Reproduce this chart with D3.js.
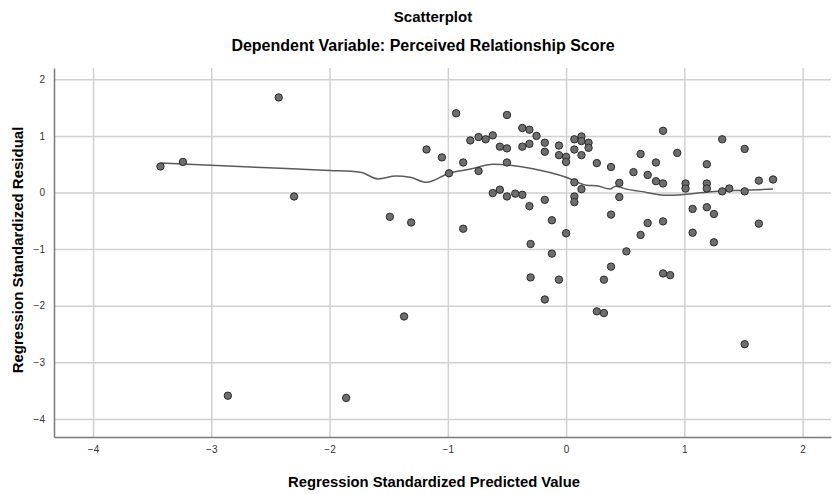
<!DOCTYPE html>
<html>
<head>
<meta charset="utf-8">
<script src="https://cdn.jsdelivr.net/npm/d3@7"></script>
<style>
  body { margin: 0; background: #fff; }
  svg text { font-family: "Liberation Sans", Arial, sans-serif; }
</style>
</head>
<body>
<div id="chart"></div>
<script>
// predicted (x) and residual (y) values
const predicted = [
  -3.43, -3.24, -2.43, -2.30, -2.86, -1.86, -1.49, -1.37, -1.31,
  -1.18, -1.05, -0.99, -0.93, -0.87, -0.87, -0.81, -0.74, -0.74, -0.68,
  -0.62, -0.62, -0.56, -0.56, -0.50, -0.50, -0.50, -0.50, -0.43,
  -0.37, -0.37, -0.37, -0.31, -0.31, -0.31, -0.30, -0.30, -0.25,
  -0.18, -0.18, -0.18, -0.18, -0.12, -0.12, -0.06, -0.06, -0.06,
  0.00, 0.00, 0.00, 0.07, 0.07, 0.07, 0.07, 0.07, 0.13, 0.13, 0.13, 0.13,
  0.19, 0.19, 0.26, 0.26, 0.32, 0.32, 0.38, 0.38, 0.38, 0.45, 0.45,
  0.51, 0.57, 0.63, 0.63, 0.69, 0.69, 0.76, 0.76, 0.82, 0.82, 0.82, 0.82,
  0.88, 0.94, 1.01, 1.01, 1.07, 1.07, 1.19, 1.19, 1.19, 1.19, 1.25, 1.25,
  1.32, 1.32, 1.38, 1.51, 1.51, 1.51, 1.63, 1.63, 1.75
];
const residual = [
  0.46, 0.54, 1.68, -0.07, -3.59, -3.63, -0.43, -2.19, -0.53,
  0.76, 0.62, 0.34, 1.40, 0.53, -0.64, 0.92, 0.98, 0.38, 0.94,
  1.01, -0.01, 0.81, 0.05, 1.37, 0.78, 0.53, -0.07, -0.02,
  1.14, 0.81, -0.04, 1.11, 0.86, -0.24, -0.91, -1.50, 1.00,
  0.88, 0.72, -0.13, -1.89, -0.49, -1.08, 0.83, 0.66, -1.54,
  0.63, 0.54, -0.72, 0.94, 0.76, 0.18, -0.07, -0.17, 0.99, 0.91, 0.66, 0.06,
  0.88, 0.79, 0.52, -2.10, -1.54, -2.13, 0.45, -0.39, -1.31, 0.17, -0.08,
  -1.04, 0.36, 0.68, -0.75, 0.31, -0.54, 0.53, 0.20, 1.09, 0.16, -0.51, -1.43,
  -1.46, 0.70, 0.16, 0.07, -0.29, -0.71, 0.50, 0.16, 0.07, -0.26, -0.38, -0.88,
  0.94, 0.02, 0.07, 0.77, 0.02, -2.68, 0.21, -0.55, 0.23
];

// fit line (loess) through the points
const fitX = [-3.43, -2.57, -2.00, -1.74, -1.59, -1.44, -1.32, -1.18, -0.99, -0.80, -0.62,
  -0.28, 0.00, 0.17, 0.26, 0.37, 0.42, 0.51, 0.63, 0.85, 1.02, 1.25, 1.50, 1.75];
const fitY = [0.52, 0.44, 0.39, 0.36, 0.24, 0.29, 0.27, 0.18, 0.34, 0.42, 0.50,
  0.42, 0.27, 0.13, 0.12, 0.06, 0.11, 0.06, 0.02, -0.05, -0.03, 0.02, 0.04, 0.06];

const xTicks = [-4, -3, -2, -1, 0, 1, 2];
const yTicks = [2, 1, 0, -1, -2, -3, -4];

const svgWidth = 832, svgHeight = 494;
const margin = {top: 68, right: 1, bottom: 57, left: 54};

const x = d3.scaleLinear().domain([-4.33, 2.24]).range([margin.left, svgWidth - margin.right]);
const y = d3.scaleLinear().domain([-4.32, 2.2]).range([svgHeight - margin.bottom, margin.top]);

const svg = d3.select("#chart").append("svg")
  .attr("width", svgWidth)
  .attr("height", svgHeight);

// grid
svg.append("g")
  .attr("transform", "translate(0," + (svgHeight - margin.bottom) + ")")
  .call(d3.axisBottom(x).tickValues(xTicks).tickSize(-(svgHeight - margin.top - margin.bottom)).tickFormat(""))
  .call(g => g.select(".domain").remove())
  .selectAll("line").attr("stroke", "#d0d0d0").attr("stroke-width", 1.5);

svg.append("g")
  .attr("transform", "translate(" + margin.left + ",0)")
  .call(d3.axisLeft(y).tickValues(yTicks).tickSize(-(svgWidth - margin.left - margin.right)).tickFormat(""))
  .call(g => g.select(".domain").remove())
  .selectAll("line").attr("stroke", "#d0d0d0").attr("stroke-width", 1.5);

// axes
const xAxis = svg.append("g")
  .attr("transform", "translate(0," + (svgHeight - margin.bottom) + ")")
  .call(d3.axisBottom(x).tickValues(xTicks).tickSize(0).tickPadding(9).tickFormat(d3.format("d")));
xAxis.select(".domain").attr("stroke", "#7a7a7a").attr("stroke-width", 1.5);
xAxis.selectAll("text").attr("font-size", "10px").attr("fill", "#333");

const yAxis = svg.append("g")
  .attr("transform", "translate(" + margin.left + ",0)")
  .call(d3.axisLeft(y).tickValues(yTicks).tickSize(0).tickPadding(9).tickFormat(d3.format("d")));
yAxis.select(".domain").attr("stroke", "#7a7a7a").attr("stroke-width", 1.5);
yAxis.selectAll("text").attr("font-size", "10px").attr("fill", "#333");

// fit line
const line = d3.line()
  .x((d, i) => x(fitX[i]))
  .y((d, i) => y(fitY[i]))
  .curve(d3.curveMonotoneX);
svg.append("path")
  .datum(fitX)
  .attr("d", line)
  .attr("fill", "none")
  .attr("stroke", "#5a5a5a")
  .attr("stroke-width", 1.5);

// points
svg.append("g").selectAll("circle")
  .data(predicted)
  .enter()
  .append("circle")
  .attr("cx", d => x(d))
  .attr("cy", (d, i) => y(residual[i]))
  .attr("r", 3.7)
  .attr("fill", "#6e6e6e")
  .attr("stroke", "#2b2b2b")
  .attr("stroke-width", 1);

// titles
svg.append("text")
  .attr("x", 433).attr("y", 22)
  .attr("text-anchor", "middle")
  .attr("font-size", "15px").attr("font-weight", "bold")
  .text("Scatterplot");

svg.append("text")
  .attr("x", 423).attr("y", 51)
  .attr("text-anchor", "middle")
  .attr("font-size", "16px").attr("font-weight", "bold")
  .text("Dependent Variable: Perceived Relationship Score");

svg.append("text")
  .attr("x", 434).attr("y", 487)
  .attr("text-anchor", "middle")
  .attr("font-size", "14.8px").attr("font-weight", "bold")
  .text("Regression Standardized Predicted Value");

svg.append("text")
  .attr("transform", "translate(23,250) rotate(-90)")
  .attr("text-anchor", "middle")
  .attr("font-size", "15px").attr("font-weight", "bold")
  .text("Regression Standardized Residual");
</script>
</body>
</html>
